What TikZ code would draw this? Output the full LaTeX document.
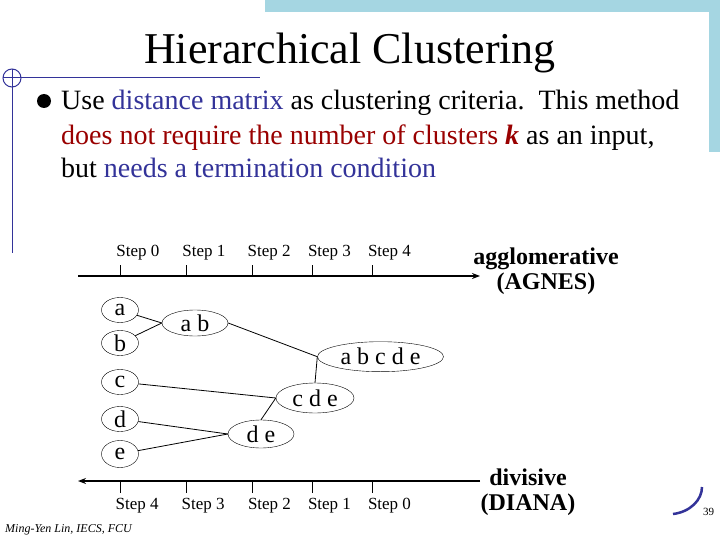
\documentclass[tikz,border=0pt]{standalone}
\usepackage{fontspec}
\setmainfont{Liberation Serif}
\usetikzlibrary{shapes.geometric,arrows.meta}
\definecolor{slideblue}{RGB}{51,51,153}
\definecolor{slidered}{RGB}{153,0,0}
\definecolor{bandblue}{RGB}{165,214,226}
\tikzset{
  txt/.style={inner sep=0pt,anchor=base west},
  leaf/.style={draw,ellipse,inner sep=0pt,minimum width=37pt,minimum height=25pt,font=\fontsize{24}{26}\selectfont},
  clus/.style={draw,ellipse,inner sep=0pt,font=\fontsize{24}{26}\selectfont},
  link/.style={line width=0.8pt},
  axis/.style={line width=2pt},
  tick/.style={line width=0.8pt},
  steplab/.style={inner sep=0pt,anchor=west,font=\fontsize{17}{19}\selectfont},
  boldlab/.style={inner sep=0pt,font=\fontsize{24}{26}\selectfont\bfseries,align=center},
  deco/.style={draw=slideblue,line width=1pt}
}
\begin{document}
\begin{tikzpicture}[x=1pt,y=-1pt]
\useasboundingbox (0,0) rectangle (720,540);
% decorative band
\fill[bandblue] (265,0) rectangle (720,12);
\fill[bandblue] (709,0) rectangle (720,152);
% left decoration
\draw[deco] (12,78) circle (9);
\draw[deco] (3,78) -- (260,78);
\draw[deco] (12,69) -- (12,253);
% title
\node[inner sep=0pt,anchor=base] (title) at (350,64) {\fontsize{44}{48}\selectfont Hierarchical Clustering};
% bullet text
\fill (44,101) circle (7);
\node[txt] (l1) at (61,110) {\fontsize{28}{30}\selectfont Use \textcolor{slideblue}{distance matrix} as clustering criteria.\ \ This method};
\node[txt] (l2) at (61,145) {\fontsize{28}{30}\selectfont \textcolor{slidered}{does not require the number of clusters \textbf{\textit{k}}} as an input,};
\node[txt] (l3) at (61,178) {\fontsize{28}{30}\selectfont but \textcolor{slideblue}{needs a termination condition}};
% top axis
\coordinate (ta0) at (78,276);
\coordinate (ta1) at (480,276);
\draw[axis,-{Stealth[length=8pt,width=6pt]}] (ta0) -- (ta1);
\foreach \x/\s in {120.7/0,186.7/1,252/2,312.3/3,372.3/4}{
  \draw[tick] (\x,265) -- (\x,276);
  \node[steplab] (ts\s) at (\x-4.5,252.5) {Step \s};
}
\node[boldlab] (agg) at (546,271) {agglomerative\\[-1pt](AGNES)};
% bottom axis
\coordinate (ba0) at (480,481);
\coordinate (ba1) at (78,481);
\draw[axis,-{Stealth[length=8pt,width=6pt]}] (ba0) -- (ba1);
\foreach \x/\s in {120/4,186/3,252.3/2,312.3/1,372.3/0}{
  \draw[tick] (\x,481) -- (\x,493);
  \node[steplab] (bs\s) at (\x-4.5,505.5) {Step \s};
}
\node[boldlab] (div) at (528,492) {divisive\\[-1pt](DIANA)};
% leaves
\node[leaf] (a) at (120,310) {a};
\node[leaf] (b) at (120,343) {b};
\node[leaf] (c) at (120,382) {c};
\node[leaf] (d) at (120,419) {d};
\node[leaf,minimum height=27pt] (e) at (120,454) {e};
% clusters
\node[clus,minimum width=66pt,minimum height=26pt] (ab) at (195,323) {a b};
\node[clus,minimum width=126pt,minimum height=30pt] (abcde) at (380.5,356.7) {a b c d e};
\node[clus,minimum width=78pt,minimum height=30pt] (cde) at (315,398) {c d e};
\node[clus,minimum width=66pt,minimum height=28pt] (de) at (261,434) {d e};
% links
\draw[link] (a) -- (ab.west);
\draw[link] (b) -- (ab.west);
\draw[link] (ab.east) -- (abcde.west);
\draw[link] (cde.north) -- (abcde.west);
\draw[link] (c) -- (cde.west);
\draw[link] (de.north) -- (cde.west);
\draw[link] (d) -- (de.west);
\draw[link] (e) -- (de.west);
% footer
\node[txt] (foot) at (5,532) {\fontsize{12}{14}\selectfont\itshape Ming-Yen Lin, IECS, FCU};
\coordinate (arcA) at (673,514);
\coordinate (arcB) at (702,487);
\draw[slideblue,line width=2.5pt] (arcA) .. controls (690,512) and (702,500) .. (arcB);
\node[txt] (pg) at (703,515) {\fontsize{11}{13}\selectfont 39};
\end{tikzpicture}
\end{document}
